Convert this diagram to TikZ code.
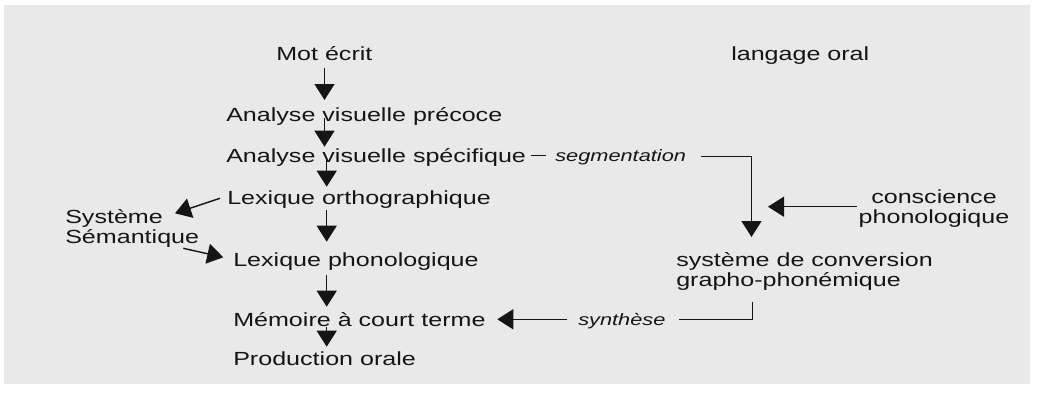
\documentclass[tikz,border=0pt]{standalone}
\usepackage{fontspec}
\setmainfont{Liberation Sans}
\usetikzlibrary{arrows.meta,calc}
\definecolor{bggray}{HTML}{E9E9E9}
\definecolor{ink}{HTML}{151515}
\newcommand{\twoleft}[2]{\begin{tabular}[t]{@{}l@{}}#1\\#2\end{tabular}}
\newcommand{\twocent}[2]{\begin{tabular}[t]{@{}c@{}}#1\\#2\end{tabular}}
\begin{document}
\begin{tikzpicture}[x=1pt,y=-1pt,
  txt/.style={inner sep=0pt,anchor=base west,xscale=1.32,text=ink,
    font=\fontsize{19}{20}\selectfont},
  itx/.style={inner sep=0pt,anchor=base west,xscale=1.32,text=ink,
    font=\fontsize{16.5}{18}\selectfont\itshape},
  arr/.style={draw=ink,line width=1.4pt,-{Triangle[length=16pt,width=20pt]}},
  ln/.style={draw=ink,line width=1.3pt}]
\useasboundingbox (0,0) rectangle (1039,394);
\fill[bggray] (4,5) rectangle (1030,384);

% text nodes
\node[txt] (mot)   at (276,60)    {Mot écrit};
\node[txt] (oral)  at (731,60)    {langage oral};
\node[txt] (pre)   at (226,121)   {Analyse visuelle précoce};
\node[txt] (spec)  at (226,162)   {Analyse visuelle spécifique};
\node[itx] (seg)   at (555,161)   {segmentation};
\node[txt] (ortho) at (227,204)   {Lexique orthographique};
\node[txt] (sem)   at (65,223.3)  {\twoleft{Système}{Sémantique}};
\node[txt] (phono) at (233,266.5) {Lexique phonologique};
\node[txt] (mem)   at (233,326)   {Mémoire à court terme};
\node[txt] (prod)  at (233,365)   {Production orale};
\node[txt,anchor=base] (consc) at (934,203.3) {\twocent{conscience}{phonologique}};
\node[txt] (conv)  at (676,266.7) {\twoleft{système de conversion}{grapho-phonémique}};
\node[itx] (syn)   at (578,325)   {synthèse};

\coordinate (colA) at (324.5,0);
\coordinate (colB) at (326.7,0);
\coordinate (ctip) at (768,206.7);

% main vertical chain
\draw[arr] ($(mot.base -| colA)+(0,8)$)    -- ($(pre.base -| colA)+(0,-21)$);
\draw[arr] ($(pre.base -| colA)+(0,-3)$)   -- ($(spec.base -| colA)+(0,-15.3)$);
\draw[arr] ($(spec.base -| colB)+(0,-2)$)  -- ($(ortho.base -| colB)+(0,-17.3)$);
\draw[arr] ($(ortho.base -| colB)+(0,6)$)  -- ($(phono.base -| colB)+(0,-24.8)$);
\draw[arr] ($(phono.base -| colB)+(0,8.5)$) -- ($(mem.base -| colB)+(0,-19.3)$);
\draw[arr] ($(mem.base -| colB)+(0,0.7)$)  -- ($(prod.base -| colB)+(0,-18.3)$);

% semantic system
\draw[arr] ($(ortho.base west)+(-7,-5.7)$) -- ($(sem.base west)+(110,-10)$);
\draw[arr] ($(sem.base west)+(118.3,25)$)  -- ($(phono.base west)+(-9.7,-9.2)$);

% segmentation route
\draw[ln,line width=1.1pt] ($(spec.base east)+(4.5,-6.5)$) -- ($(seg.base west)+(-9,-5.5)$);
\draw[arr] ($(seg.base east)+(15,-4.3)$) -| ($(conv.base west)+(75.5,-29.7)$);
\draw[arr] ($(consc.base)+(-77.3,3.4)$) -- (ctip);

% synthesis route
\draw[ln] ($(conv.base west)+(76.5,35)$) |- ($(syn.base east)+(13.7,-5.7)$);
\draw[arr] ($(syn.base west)+(-11.3,-5.7)$) -- ($(mem.base east)+(11.5,-6.7)$);
\end{tikzpicture}
\end{document}
